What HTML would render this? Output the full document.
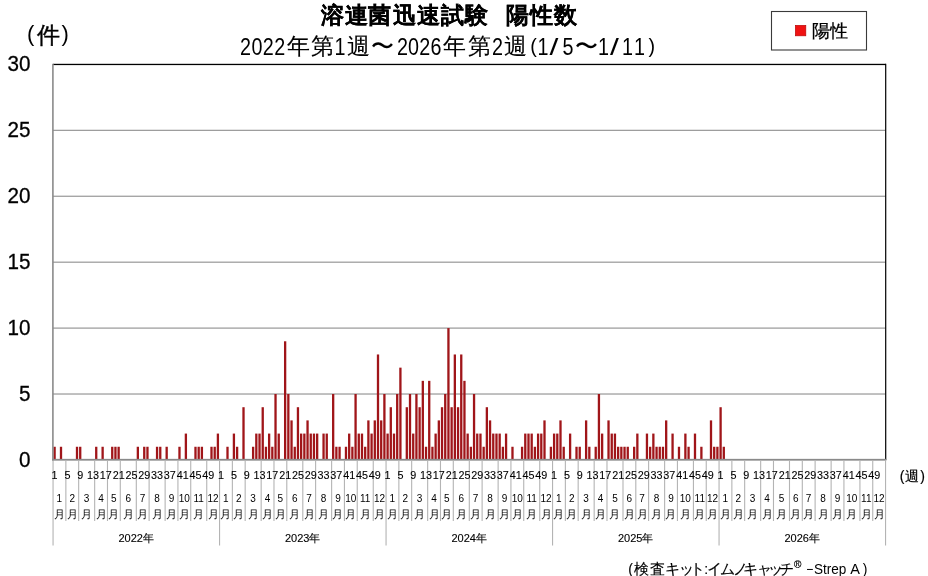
<!DOCTYPE html>
<html><head><meta charset="utf-8">
<style>
html,body{margin:0;padding:0;background:#fff;}
body{width:928px;height:576px;overflow:hidden;position:relative;font-family:"Liberation Sans",sans-serif;color:#000;}
svg{position:absolute;left:0;top:0;will-change:transform;}
svg text{font-family:"Liberation Sans",sans-serif;fill:#000;}
</style></head><body>
<svg width="928" height="576" viewBox="0 0 928 576">
<rect x="53.0" y="393.44" width="832.5" height="1.15" fill="#939393"/>
<rect x="53.0" y="327.52" width="832.5" height="1.15" fill="#939393"/>
<rect x="53.0" y="261.60" width="832.5" height="1.15" fill="#939393"/>
<rect x="53.0" y="195.67" width="832.5" height="1.15" fill="#939393"/>
<rect x="53.0" y="129.75" width="832.5" height="1.15" fill="#939393"/>
<rect x="53.0" y="63.80" width="833.0" height="1.3" fill="#000"/>
<rect x="885.10" y="63.80" width="1.2" height="396.15" fill="#000"/>
<rect x="53.45" y="446.76" width="2.3" height="13.18" fill="#a01519"/>
<rect x="59.85" y="446.76" width="2.3" height="13.18" fill="#a01519"/>
<rect x="75.86" y="446.76" width="2.3" height="13.18" fill="#a01519"/>
<rect x="79.07" y="446.76" width="2.3" height="13.18" fill="#a01519"/>
<rect x="95.08" y="446.76" width="2.3" height="13.18" fill="#a01519"/>
<rect x="101.48" y="446.76" width="2.3" height="13.18" fill="#a01519"/>
<rect x="111.09" y="446.76" width="2.3" height="13.18" fill="#a01519"/>
<rect x="114.29" y="446.76" width="2.3" height="13.18" fill="#a01519"/>
<rect x="117.49" y="446.76" width="2.3" height="13.18" fill="#a01519"/>
<rect x="136.70" y="446.76" width="2.3" height="13.18" fill="#a01519"/>
<rect x="143.10" y="446.76" width="2.3" height="13.18" fill="#a01519"/>
<rect x="146.31" y="446.76" width="2.3" height="13.18" fill="#a01519"/>
<rect x="155.91" y="446.76" width="2.3" height="13.18" fill="#a01519"/>
<rect x="159.11" y="446.76" width="2.3" height="13.18" fill="#a01519"/>
<rect x="165.52" y="446.76" width="2.3" height="13.18" fill="#a01519"/>
<rect x="178.33" y="446.76" width="2.3" height="13.18" fill="#a01519"/>
<rect x="184.73" y="433.58" width="2.3" height="26.37" fill="#a01519"/>
<rect x="194.34" y="446.76" width="2.3" height="13.18" fill="#a01519"/>
<rect x="197.54" y="446.76" width="2.3" height="13.18" fill="#a01519"/>
<rect x="200.74" y="446.76" width="2.3" height="13.18" fill="#a01519"/>
<rect x="210.35" y="446.76" width="2.3" height="13.18" fill="#a01519"/>
<rect x="213.55" y="446.76" width="2.3" height="13.18" fill="#a01519"/>
<rect x="216.75" y="433.58" width="2.3" height="26.37" fill="#a01519"/>
<rect x="226.35" y="446.76" width="2.3" height="13.18" fill="#a01519"/>
<rect x="232.76" y="433.58" width="2.3" height="26.37" fill="#a01519"/>
<rect x="235.96" y="446.76" width="2.3" height="13.18" fill="#a01519"/>
<rect x="242.36" y="407.21" width="2.3" height="52.74" fill="#a01519"/>
<rect x="251.97" y="446.76" width="2.3" height="13.18" fill="#a01519"/>
<rect x="255.17" y="433.58" width="2.3" height="26.37" fill="#a01519"/>
<rect x="258.37" y="433.58" width="2.3" height="26.37" fill="#a01519"/>
<rect x="261.58" y="407.21" width="2.3" height="52.74" fill="#a01519"/>
<rect x="264.78" y="446.76" width="2.3" height="13.18" fill="#a01519"/>
<rect x="267.98" y="433.58" width="2.3" height="26.37" fill="#a01519"/>
<rect x="271.18" y="446.76" width="2.3" height="13.18" fill="#a01519"/>
<rect x="274.38" y="394.02" width="2.3" height="65.92" fill="#a01519"/>
<rect x="277.59" y="433.58" width="2.3" height="26.37" fill="#a01519"/>
<rect x="283.99" y="341.28" width="2.3" height="118.66" fill="#a01519"/>
<rect x="287.19" y="394.02" width="2.3" height="65.92" fill="#a01519"/>
<rect x="290.39" y="420.39" width="2.3" height="39.55" fill="#a01519"/>
<rect x="293.60" y="446.76" width="2.3" height="13.18" fill="#a01519"/>
<rect x="296.80" y="407.21" width="2.3" height="52.74" fill="#a01519"/>
<rect x="300.00" y="433.58" width="2.3" height="26.37" fill="#a01519"/>
<rect x="303.20" y="433.58" width="2.3" height="26.37" fill="#a01519"/>
<rect x="306.40" y="420.39" width="2.3" height="39.55" fill="#a01519"/>
<rect x="309.60" y="433.58" width="2.3" height="26.37" fill="#a01519"/>
<rect x="312.81" y="433.58" width="2.3" height="26.37" fill="#a01519"/>
<rect x="316.01" y="433.58" width="2.3" height="26.37" fill="#a01519"/>
<rect x="322.41" y="433.58" width="2.3" height="26.37" fill="#a01519"/>
<rect x="325.61" y="433.58" width="2.3" height="26.37" fill="#a01519"/>
<rect x="332.02" y="394.02" width="2.3" height="65.92" fill="#a01519"/>
<rect x="335.22" y="446.76" width="2.3" height="13.18" fill="#a01519"/>
<rect x="338.42" y="446.76" width="2.3" height="13.18" fill="#a01519"/>
<rect x="344.83" y="446.76" width="2.3" height="13.18" fill="#a01519"/>
<rect x="348.03" y="433.58" width="2.3" height="26.37" fill="#a01519"/>
<rect x="351.23" y="446.76" width="2.3" height="13.18" fill="#a01519"/>
<rect x="354.43" y="394.02" width="2.3" height="65.92" fill="#a01519"/>
<rect x="357.63" y="433.58" width="2.3" height="26.37" fill="#a01519"/>
<rect x="360.84" y="433.58" width="2.3" height="26.37" fill="#a01519"/>
<rect x="364.04" y="446.76" width="2.3" height="13.18" fill="#a01519"/>
<rect x="367.24" y="420.39" width="2.3" height="39.55" fill="#a01519"/>
<rect x="370.44" y="433.58" width="2.3" height="26.37" fill="#a01519"/>
<rect x="373.64" y="420.39" width="2.3" height="39.55" fill="#a01519"/>
<rect x="376.85" y="354.47" width="2.3" height="105.48" fill="#a01519"/>
<rect x="380.05" y="420.39" width="2.3" height="39.55" fill="#a01519"/>
<rect x="383.25" y="394.02" width="2.3" height="65.92" fill="#a01519"/>
<rect x="386.45" y="433.58" width="2.3" height="26.37" fill="#a01519"/>
<rect x="389.65" y="407.21" width="2.3" height="52.74" fill="#a01519"/>
<rect x="392.85" y="433.58" width="2.3" height="26.37" fill="#a01519"/>
<rect x="396.06" y="394.02" width="2.3" height="65.92" fill="#a01519"/>
<rect x="399.26" y="367.65" width="2.3" height="92.29" fill="#a01519"/>
<rect x="405.66" y="407.21" width="2.3" height="52.74" fill="#a01519"/>
<rect x="408.86" y="394.02" width="2.3" height="65.92" fill="#a01519"/>
<rect x="412.07" y="433.58" width="2.3" height="26.37" fill="#a01519"/>
<rect x="415.27" y="394.02" width="2.3" height="65.92" fill="#a01519"/>
<rect x="418.47" y="407.21" width="2.3" height="52.74" fill="#a01519"/>
<rect x="421.67" y="380.84" width="2.3" height="79.11" fill="#a01519"/>
<rect x="424.87" y="446.76" width="2.3" height="13.18" fill="#a01519"/>
<rect x="428.08" y="380.84" width="2.3" height="79.11" fill="#a01519"/>
<rect x="431.28" y="446.76" width="2.3" height="13.18" fill="#a01519"/>
<rect x="434.48" y="433.58" width="2.3" height="26.37" fill="#a01519"/>
<rect x="437.68" y="420.39" width="2.3" height="39.55" fill="#a01519"/>
<rect x="440.88" y="407.21" width="2.3" height="52.74" fill="#a01519"/>
<rect x="444.09" y="394.02" width="2.3" height="65.92" fill="#a01519"/>
<rect x="447.29" y="328.10" width="2.3" height="131.85" fill="#a01519"/>
<rect x="450.49" y="407.21" width="2.3" height="52.74" fill="#a01519"/>
<rect x="453.69" y="354.47" width="2.3" height="105.48" fill="#a01519"/>
<rect x="456.89" y="407.21" width="2.3" height="52.74" fill="#a01519"/>
<rect x="460.10" y="354.47" width="2.3" height="105.48" fill="#a01519"/>
<rect x="463.30" y="380.84" width="2.3" height="79.11" fill="#a01519"/>
<rect x="466.50" y="433.58" width="2.3" height="26.37" fill="#a01519"/>
<rect x="469.70" y="446.76" width="2.3" height="13.18" fill="#a01519"/>
<rect x="472.90" y="394.02" width="2.3" height="65.92" fill="#a01519"/>
<rect x="476.10" y="433.58" width="2.3" height="26.37" fill="#a01519"/>
<rect x="479.31" y="433.58" width="2.3" height="26.37" fill="#a01519"/>
<rect x="482.51" y="446.76" width="2.3" height="13.18" fill="#a01519"/>
<rect x="485.71" y="407.21" width="2.3" height="52.74" fill="#a01519"/>
<rect x="488.91" y="420.39" width="2.3" height="39.55" fill="#a01519"/>
<rect x="492.11" y="433.58" width="2.3" height="26.37" fill="#a01519"/>
<rect x="495.32" y="433.58" width="2.3" height="26.37" fill="#a01519"/>
<rect x="498.52" y="433.58" width="2.3" height="26.37" fill="#a01519"/>
<rect x="501.72" y="446.76" width="2.3" height="13.18" fill="#a01519"/>
<rect x="504.92" y="433.58" width="2.3" height="26.37" fill="#a01519"/>
<rect x="511.33" y="446.76" width="2.3" height="13.18" fill="#a01519"/>
<rect x="520.93" y="446.76" width="2.3" height="13.18" fill="#a01519"/>
<rect x="524.13" y="433.58" width="2.3" height="26.37" fill="#a01519"/>
<rect x="527.34" y="433.58" width="2.3" height="26.37" fill="#a01519"/>
<rect x="530.54" y="433.58" width="2.3" height="26.37" fill="#a01519"/>
<rect x="533.74" y="446.76" width="2.3" height="13.18" fill="#a01519"/>
<rect x="536.94" y="433.58" width="2.3" height="26.37" fill="#a01519"/>
<rect x="540.14" y="433.58" width="2.3" height="26.37" fill="#a01519"/>
<rect x="543.35" y="420.39" width="2.3" height="39.55" fill="#a01519"/>
<rect x="549.75" y="446.76" width="2.3" height="13.18" fill="#a01519"/>
<rect x="552.95" y="433.58" width="2.3" height="26.37" fill="#a01519"/>
<rect x="556.15" y="433.58" width="2.3" height="26.37" fill="#a01519"/>
<rect x="559.35" y="420.39" width="2.3" height="39.55" fill="#a01519"/>
<rect x="562.56" y="446.76" width="2.3" height="13.18" fill="#a01519"/>
<rect x="568.96" y="433.58" width="2.3" height="26.37" fill="#a01519"/>
<rect x="575.36" y="446.76" width="2.3" height="13.18" fill="#a01519"/>
<rect x="578.57" y="446.76" width="2.3" height="13.18" fill="#a01519"/>
<rect x="584.97" y="420.39" width="2.3" height="39.55" fill="#a01519"/>
<rect x="588.17" y="446.76" width="2.3" height="13.18" fill="#a01519"/>
<rect x="594.58" y="446.76" width="2.3" height="13.18" fill="#a01519"/>
<rect x="597.78" y="394.02" width="2.3" height="65.92" fill="#a01519"/>
<rect x="600.98" y="433.58" width="2.3" height="26.37" fill="#a01519"/>
<rect x="607.38" y="420.39" width="2.3" height="39.55" fill="#a01519"/>
<rect x="610.59" y="433.58" width="2.3" height="26.37" fill="#a01519"/>
<rect x="613.79" y="433.58" width="2.3" height="26.37" fill="#a01519"/>
<rect x="616.99" y="446.76" width="2.3" height="13.18" fill="#a01519"/>
<rect x="620.19" y="446.76" width="2.3" height="13.18" fill="#a01519"/>
<rect x="623.39" y="446.76" width="2.3" height="13.18" fill="#a01519"/>
<rect x="626.60" y="446.76" width="2.3" height="13.18" fill="#a01519"/>
<rect x="633.00" y="446.76" width="2.3" height="13.18" fill="#a01519"/>
<rect x="636.20" y="433.58" width="2.3" height="26.37" fill="#a01519"/>
<rect x="645.81" y="433.58" width="2.3" height="26.37" fill="#a01519"/>
<rect x="649.01" y="446.76" width="2.3" height="13.18" fill="#a01519"/>
<rect x="652.21" y="433.58" width="2.3" height="26.37" fill="#a01519"/>
<rect x="655.41" y="446.76" width="2.3" height="13.18" fill="#a01519"/>
<rect x="658.61" y="446.76" width="2.3" height="13.18" fill="#a01519"/>
<rect x="661.82" y="446.76" width="2.3" height="13.18" fill="#a01519"/>
<rect x="665.02" y="420.39" width="2.3" height="39.55" fill="#a01519"/>
<rect x="671.42" y="433.58" width="2.3" height="26.37" fill="#a01519"/>
<rect x="677.83" y="446.76" width="2.3" height="13.18" fill="#a01519"/>
<rect x="684.23" y="433.58" width="2.3" height="26.37" fill="#a01519"/>
<rect x="687.43" y="446.76" width="2.3" height="13.18" fill="#a01519"/>
<rect x="693.84" y="433.58" width="2.3" height="26.37" fill="#a01519"/>
<rect x="700.24" y="446.76" width="2.3" height="13.18" fill="#a01519"/>
<rect x="709.85" y="420.39" width="2.3" height="39.55" fill="#a01519"/>
<rect x="713.05" y="446.76" width="2.3" height="13.18" fill="#a01519"/>
<rect x="716.25" y="446.76" width="2.3" height="13.18" fill="#a01519"/>
<rect x="719.45" y="407.21" width="2.3" height="52.74" fill="#a01519"/>
<rect x="722.65" y="446.76" width="2.3" height="13.18" fill="#a01519"/>
<rect x="52.10" y="63.80" width="1.6" height="396.75" fill="#8a8a8a"/>
<rect x="52.10" y="458.85" width="834.30" height="1.8" fill="#8a8a8a"/>
<rect x="52.50" y="460.95" width="1.1" height="84.55" fill="#b4b4b4"/>
<text x="59.40" y="502" text-anchor="middle" font-size="10">1</text>
<text x="59.40" y="517.5" text-anchor="middle" font-size="10.5">月</text>
<rect x="65.31" y="460.95" width="1.1" height="60.05" fill="#b4b4b4"/>
<text x="72.21" y="502" text-anchor="middle" font-size="10">2</text>
<text x="72.21" y="517.5" text-anchor="middle" font-size="10.5">月</text>
<rect x="78.12" y="460.95" width="1.1" height="60.05" fill="#b4b4b4"/>
<text x="86.62" y="502" text-anchor="middle" font-size="10">3</text>
<text x="86.62" y="517.5" text-anchor="middle" font-size="10.5">月</text>
<rect x="94.12" y="460.95" width="1.1" height="60.05" fill="#b4b4b4"/>
<text x="101.03" y="502" text-anchor="middle" font-size="10">4</text>
<text x="101.03" y="517.5" text-anchor="middle" font-size="10.5">月</text>
<rect x="106.93" y="460.95" width="1.1" height="60.05" fill="#b4b4b4"/>
<text x="113.84" y="502" text-anchor="middle" font-size="10">5</text>
<text x="113.84" y="517.5" text-anchor="middle" font-size="10.5">月</text>
<rect x="119.74" y="460.95" width="1.1" height="60.05" fill="#b4b4b4"/>
<text x="128.25" y="502" text-anchor="middle" font-size="10">6</text>
<text x="128.25" y="517.5" text-anchor="middle" font-size="10.5">月</text>
<rect x="135.75" y="460.95" width="1.1" height="60.05" fill="#b4b4b4"/>
<text x="142.65" y="502" text-anchor="middle" font-size="10">7</text>
<text x="142.65" y="517.5" text-anchor="middle" font-size="10.5">月</text>
<rect x="148.56" y="460.95" width="1.1" height="60.05" fill="#b4b4b4"/>
<text x="157.06" y="502" text-anchor="middle" font-size="10">8</text>
<text x="157.06" y="517.5" text-anchor="middle" font-size="10.5">月</text>
<rect x="164.57" y="460.95" width="1.1" height="60.05" fill="#b4b4b4"/>
<text x="171.47" y="502" text-anchor="middle" font-size="10">9</text>
<text x="171.47" y="517.5" text-anchor="middle" font-size="10.5">月</text>
<rect x="177.38" y="460.95" width="1.1" height="60.05" fill="#b4b4b4"/>
<text x="184.28" y="502" text-anchor="middle" font-size="10">10</text>
<text x="184.28" y="517.5" text-anchor="middle" font-size="10.5">月</text>
<rect x="190.18" y="460.95" width="1.1" height="60.05" fill="#b4b4b4"/>
<text x="198.69" y="502" text-anchor="middle" font-size="10">11</text>
<text x="198.69" y="517.5" text-anchor="middle" font-size="10.5">月</text>
<rect x="206.19" y="460.95" width="1.1" height="60.05" fill="#b4b4b4"/>
<text x="213.10" y="502" text-anchor="middle" font-size="10">12</text>
<text x="213.10" y="517.5" text-anchor="middle" font-size="10.5">月</text>
<text transform="translate(54.60,479) scale(1.08,1)" text-anchor="middle" font-size="10" stroke="#000" stroke-width="0.1">1</text>
<text transform="translate(67.41,479) scale(1.08,1)" text-anchor="middle" font-size="10" stroke="#000" stroke-width="0.1">5</text>
<text transform="translate(80.22,479) scale(1.08,1)" text-anchor="middle" font-size="10" stroke="#000" stroke-width="0.1">9</text>
<text transform="translate(93.02,479) scale(1.08,1)" text-anchor="middle" font-size="10" stroke="#000" stroke-width="0.1">13</text>
<text transform="translate(105.83,479) scale(1.08,1)" text-anchor="middle" font-size="10" stroke="#000" stroke-width="0.1">17</text>
<text transform="translate(118.64,479) scale(1.08,1)" text-anchor="middle" font-size="10" stroke="#000" stroke-width="0.1">21</text>
<text transform="translate(131.45,479) scale(1.08,1)" text-anchor="middle" font-size="10" stroke="#000" stroke-width="0.1">25</text>
<text transform="translate(144.25,479) scale(1.08,1)" text-anchor="middle" font-size="10" stroke="#000" stroke-width="0.1">29</text>
<text transform="translate(157.06,479) scale(1.08,1)" text-anchor="middle" font-size="10" stroke="#000" stroke-width="0.1">33</text>
<text transform="translate(169.87,479) scale(1.08,1)" text-anchor="middle" font-size="10" stroke="#000" stroke-width="0.1">37</text>
<text transform="translate(182.68,479) scale(1.08,1)" text-anchor="middle" font-size="10" stroke="#000" stroke-width="0.1">41</text>
<text transform="translate(195.49,479) scale(1.08,1)" text-anchor="middle" font-size="10" stroke="#000" stroke-width="0.1">45</text>
<text transform="translate(208.29,479) scale(1.08,1)" text-anchor="middle" font-size="10" stroke="#000" stroke-width="0.1">49</text>
<text x="136.25" y="541.7" text-anchor="middle" font-size="11" stroke="#000" stroke-width="0.12">2022年</text>
<rect x="219.00" y="460.95" width="1.1" height="84.55" fill="#b4b4b4"/>
<text x="225.90" y="502" text-anchor="middle" font-size="10">1</text>
<text x="225.90" y="517.5" text-anchor="middle" font-size="10.5">月</text>
<rect x="231.81" y="460.95" width="1.1" height="60.05" fill="#b4b4b4"/>
<text x="238.71" y="502" text-anchor="middle" font-size="10">2</text>
<text x="238.71" y="517.5" text-anchor="middle" font-size="10.5">月</text>
<rect x="244.62" y="460.95" width="1.1" height="60.05" fill="#b4b4b4"/>
<text x="253.12" y="502" text-anchor="middle" font-size="10">3</text>
<text x="253.12" y="517.5" text-anchor="middle" font-size="10.5">月</text>
<rect x="260.62" y="460.95" width="1.1" height="60.05" fill="#b4b4b4"/>
<text x="267.53" y="502" text-anchor="middle" font-size="10">4</text>
<text x="267.53" y="517.5" text-anchor="middle" font-size="10.5">月</text>
<rect x="273.43" y="460.95" width="1.1" height="60.05" fill="#b4b4b4"/>
<text x="280.34" y="502" text-anchor="middle" font-size="10">5</text>
<text x="280.34" y="517.5" text-anchor="middle" font-size="10.5">月</text>
<rect x="286.24" y="460.95" width="1.1" height="60.05" fill="#b4b4b4"/>
<text x="294.75" y="502" text-anchor="middle" font-size="10">6</text>
<text x="294.75" y="517.5" text-anchor="middle" font-size="10.5">月</text>
<rect x="302.25" y="460.95" width="1.1" height="60.05" fill="#b4b4b4"/>
<text x="309.15" y="502" text-anchor="middle" font-size="10">7</text>
<text x="309.15" y="517.5" text-anchor="middle" font-size="10.5">月</text>
<rect x="315.06" y="460.95" width="1.1" height="60.05" fill="#b4b4b4"/>
<text x="323.56" y="502" text-anchor="middle" font-size="10">8</text>
<text x="323.56" y="517.5" text-anchor="middle" font-size="10.5">月</text>
<rect x="331.07" y="460.95" width="1.1" height="60.05" fill="#b4b4b4"/>
<text x="337.97" y="502" text-anchor="middle" font-size="10">9</text>
<text x="337.97" y="517.5" text-anchor="middle" font-size="10.5">月</text>
<rect x="343.88" y="460.95" width="1.1" height="60.05" fill="#b4b4b4"/>
<text x="350.78" y="502" text-anchor="middle" font-size="10">10</text>
<text x="350.78" y="517.5" text-anchor="middle" font-size="10.5">月</text>
<rect x="356.68" y="460.95" width="1.1" height="60.05" fill="#b4b4b4"/>
<text x="365.19" y="502" text-anchor="middle" font-size="10">11</text>
<text x="365.19" y="517.5" text-anchor="middle" font-size="10.5">月</text>
<rect x="372.69" y="460.95" width="1.1" height="60.05" fill="#b4b4b4"/>
<text x="379.60" y="502" text-anchor="middle" font-size="10">12</text>
<text x="379.60" y="517.5" text-anchor="middle" font-size="10.5">月</text>
<text transform="translate(221.10,479) scale(1.08,1)" text-anchor="middle" font-size="10" stroke="#000" stroke-width="0.1">1</text>
<text transform="translate(233.91,479) scale(1.08,1)" text-anchor="middle" font-size="10" stroke="#000" stroke-width="0.1">5</text>
<text transform="translate(246.72,479) scale(1.08,1)" text-anchor="middle" font-size="10" stroke="#000" stroke-width="0.1">9</text>
<text transform="translate(259.52,479) scale(1.08,1)" text-anchor="middle" font-size="10" stroke="#000" stroke-width="0.1">13</text>
<text transform="translate(272.33,479) scale(1.08,1)" text-anchor="middle" font-size="10" stroke="#000" stroke-width="0.1">17</text>
<text transform="translate(285.14,479) scale(1.08,1)" text-anchor="middle" font-size="10" stroke="#000" stroke-width="0.1">21</text>
<text transform="translate(297.95,479) scale(1.08,1)" text-anchor="middle" font-size="10" stroke="#000" stroke-width="0.1">25</text>
<text transform="translate(310.75,479) scale(1.08,1)" text-anchor="middle" font-size="10" stroke="#000" stroke-width="0.1">29</text>
<text transform="translate(323.56,479) scale(1.08,1)" text-anchor="middle" font-size="10" stroke="#000" stroke-width="0.1">33</text>
<text transform="translate(336.37,479) scale(1.08,1)" text-anchor="middle" font-size="10" stroke="#000" stroke-width="0.1">37</text>
<text transform="translate(349.18,479) scale(1.08,1)" text-anchor="middle" font-size="10" stroke="#000" stroke-width="0.1">41</text>
<text transform="translate(361.99,479) scale(1.08,1)" text-anchor="middle" font-size="10" stroke="#000" stroke-width="0.1">45</text>
<text transform="translate(374.79,479) scale(1.08,1)" text-anchor="middle" font-size="10" stroke="#000" stroke-width="0.1">49</text>
<text x="302.75" y="541.7" text-anchor="middle" font-size="11" stroke="#000" stroke-width="0.12">2023年</text>
<rect x="385.50" y="460.95" width="1.1" height="84.55" fill="#b4b4b4"/>
<text x="392.40" y="502" text-anchor="middle" font-size="10">1</text>
<text x="392.40" y="517.5" text-anchor="middle" font-size="10.5">月</text>
<rect x="398.31" y="460.95" width="1.1" height="60.05" fill="#b4b4b4"/>
<text x="405.21" y="502" text-anchor="middle" font-size="10">2</text>
<text x="405.21" y="517.5" text-anchor="middle" font-size="10.5">月</text>
<rect x="411.12" y="460.95" width="1.1" height="60.05" fill="#b4b4b4"/>
<text x="419.62" y="502" text-anchor="middle" font-size="10">3</text>
<text x="419.62" y="517.5" text-anchor="middle" font-size="10.5">月</text>
<rect x="427.12" y="460.95" width="1.1" height="60.05" fill="#b4b4b4"/>
<text x="434.03" y="502" text-anchor="middle" font-size="10">4</text>
<text x="434.03" y="517.5" text-anchor="middle" font-size="10.5">月</text>
<rect x="439.93" y="460.95" width="1.1" height="60.05" fill="#b4b4b4"/>
<text x="446.84" y="502" text-anchor="middle" font-size="10">5</text>
<text x="446.84" y="517.5" text-anchor="middle" font-size="10.5">月</text>
<rect x="452.74" y="460.95" width="1.1" height="60.05" fill="#b4b4b4"/>
<text x="461.25" y="502" text-anchor="middle" font-size="10">6</text>
<text x="461.25" y="517.5" text-anchor="middle" font-size="10.5">月</text>
<rect x="468.75" y="460.95" width="1.1" height="60.05" fill="#b4b4b4"/>
<text x="475.65" y="502" text-anchor="middle" font-size="10">7</text>
<text x="475.65" y="517.5" text-anchor="middle" font-size="10.5">月</text>
<rect x="481.56" y="460.95" width="1.1" height="60.05" fill="#b4b4b4"/>
<text x="490.06" y="502" text-anchor="middle" font-size="10">8</text>
<text x="490.06" y="517.5" text-anchor="middle" font-size="10.5">月</text>
<rect x="497.57" y="460.95" width="1.1" height="60.05" fill="#b4b4b4"/>
<text x="504.47" y="502" text-anchor="middle" font-size="10">9</text>
<text x="504.47" y="517.5" text-anchor="middle" font-size="10.5">月</text>
<rect x="510.38" y="460.95" width="1.1" height="60.05" fill="#b4b4b4"/>
<text x="517.28" y="502" text-anchor="middle" font-size="10">10</text>
<text x="517.28" y="517.5" text-anchor="middle" font-size="10.5">月</text>
<rect x="523.18" y="460.95" width="1.1" height="60.05" fill="#b4b4b4"/>
<text x="531.69" y="502" text-anchor="middle" font-size="10">11</text>
<text x="531.69" y="517.5" text-anchor="middle" font-size="10.5">月</text>
<rect x="539.19" y="460.95" width="1.1" height="60.05" fill="#b4b4b4"/>
<text x="546.10" y="502" text-anchor="middle" font-size="10">12</text>
<text x="546.10" y="517.5" text-anchor="middle" font-size="10.5">月</text>
<text transform="translate(387.60,479) scale(1.08,1)" text-anchor="middle" font-size="10" stroke="#000" stroke-width="0.1">1</text>
<text transform="translate(400.41,479) scale(1.08,1)" text-anchor="middle" font-size="10" stroke="#000" stroke-width="0.1">5</text>
<text transform="translate(413.22,479) scale(1.08,1)" text-anchor="middle" font-size="10" stroke="#000" stroke-width="0.1">9</text>
<text transform="translate(426.02,479) scale(1.08,1)" text-anchor="middle" font-size="10" stroke="#000" stroke-width="0.1">13</text>
<text transform="translate(438.83,479) scale(1.08,1)" text-anchor="middle" font-size="10" stroke="#000" stroke-width="0.1">17</text>
<text transform="translate(451.64,479) scale(1.08,1)" text-anchor="middle" font-size="10" stroke="#000" stroke-width="0.1">21</text>
<text transform="translate(464.45,479) scale(1.08,1)" text-anchor="middle" font-size="10" stroke="#000" stroke-width="0.1">25</text>
<text transform="translate(477.25,479) scale(1.08,1)" text-anchor="middle" font-size="10" stroke="#000" stroke-width="0.1">29</text>
<text transform="translate(490.06,479) scale(1.08,1)" text-anchor="middle" font-size="10" stroke="#000" stroke-width="0.1">33</text>
<text transform="translate(502.87,479) scale(1.08,1)" text-anchor="middle" font-size="10" stroke="#000" stroke-width="0.1">37</text>
<text transform="translate(515.68,479) scale(1.08,1)" text-anchor="middle" font-size="10" stroke="#000" stroke-width="0.1">41</text>
<text transform="translate(528.49,479) scale(1.08,1)" text-anchor="middle" font-size="10" stroke="#000" stroke-width="0.1">45</text>
<text transform="translate(541.29,479) scale(1.08,1)" text-anchor="middle" font-size="10" stroke="#000" stroke-width="0.1">49</text>
<text x="469.25" y="541.7" text-anchor="middle" font-size="11" stroke="#000" stroke-width="0.12">2024年</text>
<rect x="552.00" y="460.95" width="1.1" height="84.55" fill="#b4b4b4"/>
<text x="558.90" y="502" text-anchor="middle" font-size="10">1</text>
<text x="558.90" y="517.5" text-anchor="middle" font-size="10.5">月</text>
<rect x="564.81" y="460.95" width="1.1" height="60.05" fill="#b4b4b4"/>
<text x="571.71" y="502" text-anchor="middle" font-size="10">2</text>
<text x="571.71" y="517.5" text-anchor="middle" font-size="10.5">月</text>
<rect x="577.62" y="460.95" width="1.1" height="60.05" fill="#b4b4b4"/>
<text x="586.12" y="502" text-anchor="middle" font-size="10">3</text>
<text x="586.12" y="517.5" text-anchor="middle" font-size="10.5">月</text>
<rect x="593.62" y="460.95" width="1.1" height="60.05" fill="#b4b4b4"/>
<text x="600.53" y="502" text-anchor="middle" font-size="10">4</text>
<text x="600.53" y="517.5" text-anchor="middle" font-size="10.5">月</text>
<rect x="606.43" y="460.95" width="1.1" height="60.05" fill="#b4b4b4"/>
<text x="614.94" y="502" text-anchor="middle" font-size="10">5</text>
<text x="614.94" y="517.5" text-anchor="middle" font-size="10.5">月</text>
<rect x="622.44" y="460.95" width="1.1" height="60.05" fill="#b4b4b4"/>
<text x="629.35" y="502" text-anchor="middle" font-size="10">6</text>
<text x="629.35" y="517.5" text-anchor="middle" font-size="10.5">月</text>
<rect x="635.25" y="460.95" width="1.1" height="60.05" fill="#b4b4b4"/>
<text x="642.15" y="502" text-anchor="middle" font-size="10">7</text>
<text x="642.15" y="517.5" text-anchor="middle" font-size="10.5">月</text>
<rect x="648.06" y="460.95" width="1.1" height="60.05" fill="#b4b4b4"/>
<text x="656.56" y="502" text-anchor="middle" font-size="10">8</text>
<text x="656.56" y="517.5" text-anchor="middle" font-size="10.5">月</text>
<rect x="664.07" y="460.95" width="1.1" height="60.05" fill="#b4b4b4"/>
<text x="670.97" y="502" text-anchor="middle" font-size="10">9</text>
<text x="670.97" y="517.5" text-anchor="middle" font-size="10.5">月</text>
<rect x="676.88" y="460.95" width="1.1" height="60.05" fill="#b4b4b4"/>
<text x="685.38" y="502" text-anchor="middle" font-size="10">10</text>
<text x="685.38" y="517.5" text-anchor="middle" font-size="10.5">月</text>
<rect x="692.88" y="460.95" width="1.1" height="60.05" fill="#b4b4b4"/>
<text x="699.79" y="502" text-anchor="middle" font-size="10">11</text>
<text x="699.79" y="517.5" text-anchor="middle" font-size="10.5">月</text>
<rect x="705.69" y="460.95" width="1.1" height="60.05" fill="#b4b4b4"/>
<text x="712.60" y="502" text-anchor="middle" font-size="10">12</text>
<text x="712.60" y="517.5" text-anchor="middle" font-size="10.5">月</text>
<text transform="translate(554.10,479) scale(1.08,1)" text-anchor="middle" font-size="10" stroke="#000" stroke-width="0.1">1</text>
<text transform="translate(566.91,479) scale(1.08,1)" text-anchor="middle" font-size="10" stroke="#000" stroke-width="0.1">5</text>
<text transform="translate(579.72,479) scale(1.08,1)" text-anchor="middle" font-size="10" stroke="#000" stroke-width="0.1">9</text>
<text transform="translate(592.52,479) scale(1.08,1)" text-anchor="middle" font-size="10" stroke="#000" stroke-width="0.1">13</text>
<text transform="translate(605.33,479) scale(1.08,1)" text-anchor="middle" font-size="10" stroke="#000" stroke-width="0.1">17</text>
<text transform="translate(618.14,479) scale(1.08,1)" text-anchor="middle" font-size="10" stroke="#000" stroke-width="0.1">21</text>
<text transform="translate(630.95,479) scale(1.08,1)" text-anchor="middle" font-size="10" stroke="#000" stroke-width="0.1">25</text>
<text transform="translate(643.75,479) scale(1.08,1)" text-anchor="middle" font-size="10" stroke="#000" stroke-width="0.1">29</text>
<text transform="translate(656.56,479) scale(1.08,1)" text-anchor="middle" font-size="10" stroke="#000" stroke-width="0.1">33</text>
<text transform="translate(669.37,479) scale(1.08,1)" text-anchor="middle" font-size="10" stroke="#000" stroke-width="0.1">37</text>
<text transform="translate(682.18,479) scale(1.08,1)" text-anchor="middle" font-size="10" stroke="#000" stroke-width="0.1">41</text>
<text transform="translate(694.99,479) scale(1.08,1)" text-anchor="middle" font-size="10" stroke="#000" stroke-width="0.1">45</text>
<text transform="translate(707.79,479) scale(1.08,1)" text-anchor="middle" font-size="10" stroke="#000" stroke-width="0.1">49</text>
<text x="635.75" y="541.7" text-anchor="middle" font-size="11" stroke="#000" stroke-width="0.12">2025年</text>
<rect x="718.50" y="460.95" width="1.1" height="84.55" fill="#b4b4b4"/>
<text x="725.40" y="502" text-anchor="middle" font-size="10">1</text>
<text x="725.40" y="517.5" text-anchor="middle" font-size="10.5">月</text>
<rect x="731.31" y="460.95" width="1.1" height="60.05" fill="#b4b4b4"/>
<text x="738.21" y="502" text-anchor="middle" font-size="10">2</text>
<text x="738.21" y="517.5" text-anchor="middle" font-size="10.5">月</text>
<rect x="744.12" y="460.95" width="1.1" height="60.05" fill="#b4b4b4"/>
<text x="752.62" y="502" text-anchor="middle" font-size="10">3</text>
<text x="752.62" y="517.5" text-anchor="middle" font-size="10.5">月</text>
<rect x="760.12" y="460.95" width="1.1" height="60.05" fill="#b4b4b4"/>
<text x="767.03" y="502" text-anchor="middle" font-size="10">4</text>
<text x="767.03" y="517.5" text-anchor="middle" font-size="10.5">月</text>
<rect x="772.93" y="460.95" width="1.1" height="60.05" fill="#b4b4b4"/>
<text x="781.44" y="502" text-anchor="middle" font-size="10">5</text>
<text x="781.44" y="517.5" text-anchor="middle" font-size="10.5">月</text>
<rect x="788.94" y="460.95" width="1.1" height="60.05" fill="#b4b4b4"/>
<text x="795.85" y="502" text-anchor="middle" font-size="10">6</text>
<text x="795.85" y="517.5" text-anchor="middle" font-size="10.5">月</text>
<rect x="801.75" y="460.95" width="1.1" height="60.05" fill="#b4b4b4"/>
<text x="808.65" y="502" text-anchor="middle" font-size="10">7</text>
<text x="808.65" y="517.5" text-anchor="middle" font-size="10.5">月</text>
<rect x="814.56" y="460.95" width="1.1" height="60.05" fill="#b4b4b4"/>
<text x="823.06" y="502" text-anchor="middle" font-size="10">8</text>
<text x="823.06" y="517.5" text-anchor="middle" font-size="10.5">月</text>
<rect x="830.57" y="460.95" width="1.1" height="60.05" fill="#b4b4b4"/>
<text x="837.47" y="502" text-anchor="middle" font-size="10">9</text>
<text x="837.47" y="517.5" text-anchor="middle" font-size="10.5">月</text>
<rect x="843.38" y="460.95" width="1.1" height="60.05" fill="#b4b4b4"/>
<text x="851.88" y="502" text-anchor="middle" font-size="10">10</text>
<text x="851.88" y="517.5" text-anchor="middle" font-size="10.5">月</text>
<rect x="859.38" y="460.95" width="1.1" height="60.05" fill="#b4b4b4"/>
<text x="866.29" y="502" text-anchor="middle" font-size="10">11</text>
<text x="866.29" y="517.5" text-anchor="middle" font-size="10.5">月</text>
<rect x="872.19" y="460.95" width="1.1" height="60.05" fill="#b4b4b4"/>
<text x="879.10" y="502" text-anchor="middle" font-size="10">12</text>
<text x="879.10" y="517.5" text-anchor="middle" font-size="10.5">月</text>
<text transform="translate(720.60,479) scale(1.08,1)" text-anchor="middle" font-size="10" stroke="#000" stroke-width="0.1">1</text>
<text transform="translate(733.41,479) scale(1.08,1)" text-anchor="middle" font-size="10" stroke="#000" stroke-width="0.1">5</text>
<text transform="translate(746.22,479) scale(1.08,1)" text-anchor="middle" font-size="10" stroke="#000" stroke-width="0.1">9</text>
<text transform="translate(759.02,479) scale(1.08,1)" text-anchor="middle" font-size="10" stroke="#000" stroke-width="0.1">13</text>
<text transform="translate(771.83,479) scale(1.08,1)" text-anchor="middle" font-size="10" stroke="#000" stroke-width="0.1">17</text>
<text transform="translate(784.64,479) scale(1.08,1)" text-anchor="middle" font-size="10" stroke="#000" stroke-width="0.1">21</text>
<text transform="translate(797.45,479) scale(1.08,1)" text-anchor="middle" font-size="10" stroke="#000" stroke-width="0.1">25</text>
<text transform="translate(810.25,479) scale(1.08,1)" text-anchor="middle" font-size="10" stroke="#000" stroke-width="0.1">29</text>
<text transform="translate(823.06,479) scale(1.08,1)" text-anchor="middle" font-size="10" stroke="#000" stroke-width="0.1">33</text>
<text transform="translate(835.87,479) scale(1.08,1)" text-anchor="middle" font-size="10" stroke="#000" stroke-width="0.1">37</text>
<text transform="translate(848.68,479) scale(1.08,1)" text-anchor="middle" font-size="10" stroke="#000" stroke-width="0.1">41</text>
<text transform="translate(861.49,479) scale(1.08,1)" text-anchor="middle" font-size="10" stroke="#000" stroke-width="0.1">45</text>
<text transform="translate(874.29,479) scale(1.08,1)" text-anchor="middle" font-size="10" stroke="#000" stroke-width="0.1">49</text>
<text x="802.25" y="541.7" text-anchor="middle" font-size="11" stroke="#000" stroke-width="0.12">2026年</text>
<rect x="885.00" y="460.95" width="1.1" height="84.55" fill="#b4b4b4"/>
<text transform="translate(30.4,466.75) scale(0.96,1)" text-anchor="end" font-size="21.5" stroke="#000" stroke-width="0.3">0</text>
<text transform="translate(30.4,400.82) scale(0.96,1)" text-anchor="end" font-size="21.5" stroke="#000" stroke-width="0.3">5</text>
<text transform="translate(30.4,334.90) scale(0.96,1)" text-anchor="end" font-size="21.5" stroke="#000" stroke-width="0.3">10</text>
<text transform="translate(30.4,268.98) scale(0.96,1)" text-anchor="end" font-size="21.5" stroke="#000" stroke-width="0.3">15</text>
<text transform="translate(30.4,203.05) scale(0.96,1)" text-anchor="end" font-size="21.5" stroke="#000" stroke-width="0.3">20</text>
<text transform="translate(30.4,137.13) scale(0.96,1)" text-anchor="end" font-size="21.5" stroke="#000" stroke-width="0.3">25</text>
<text transform="translate(30.4,71.20) scale(0.96,1)" text-anchor="end" font-size="21.5" stroke="#000" stroke-width="0.3">30</text>
<text x="332.30 356.10 379.90 404.00 428.20 452.30 476.50" y="22.6" font-size="22.5" font-weight="bold" text-anchor="middle" stroke="#000" stroke-width="0.15">溶連菌迅速試験</text>
<text x="517.30 541.20 565.10" y="22.6" font-size="22.5" font-weight="bold" text-anchor="middle" stroke="#000" stroke-width="0.15">陽性数</text>
<text transform="translate(245.50,54.6) scale(0.84,1)" font-size="23.5" text-anchor="middle">2</text>
<text transform="translate(256.90,54.6) scale(0.84,1)" font-size="23.5" text-anchor="middle">0</text>
<text transform="translate(268.30,54.6) scale(0.84,1)" font-size="23.5" text-anchor="middle">2</text>
<text transform="translate(279.70,54.6) scale(0.84,1)" font-size="23.5" text-anchor="middle">2</text>
<text x="298.80" y="54.2" font-size="22.5" text-anchor="middle" stroke="#000" stroke-width="0.1">年</text>
<text x="322.60" y="54.2" font-size="22.5" text-anchor="middle" stroke="#000" stroke-width="0.1">第</text>
<text transform="translate(340.00,54.6) scale(0.84,1)" font-size="23.5" text-anchor="middle">1</text>
<text x="358.50" y="54.2" font-size="22.5" text-anchor="middle" stroke="#000" stroke-width="0.1">週</text>
<text x="382.50" y="54.2" font-size="22.5" text-anchor="middle" stroke="#000" stroke-width="0.1">〜</text>
<text transform="translate(402.40,54.6) scale(0.84,1)" font-size="23.5" text-anchor="middle">2</text>
<text transform="translate(413.60,54.6) scale(0.84,1)" font-size="23.5" text-anchor="middle">0</text>
<text transform="translate(424.80,54.6) scale(0.84,1)" font-size="23.5" text-anchor="middle">2</text>
<text transform="translate(436.00,54.6) scale(0.84,1)" font-size="23.5" text-anchor="middle">6</text>
<text x="454.90" y="54.2" font-size="22.5" text-anchor="middle" stroke="#000" stroke-width="0.1">年</text>
<text x="479.20" y="54.2" font-size="22.5" text-anchor="middle" stroke="#000" stroke-width="0.1">第</text>
<text transform="translate(497.50,54.6) scale(0.84,1)" font-size="23.5" text-anchor="middle">2</text>
<text x="515.70" y="54.2" font-size="22.5" text-anchor="middle" stroke="#000" stroke-width="0.1">週</text>
<text transform="translate(533.50,53.3) scale(0.84,0.88)" font-size="23.5" text-anchor="middle">(</text>
<text transform="translate(543.00,54.6) scale(0.84,1)" font-size="23.5" text-anchor="middle">1</text>
<text transform="translate(554.00,55.2) scale(1.45,1.08)" font-size="22" text-anchor="middle">/</text>
<text transform="translate(568.00,54.6) scale(0.84,1)" font-size="23.5" text-anchor="middle">5</text>
<text x="586.50" y="54.2" font-size="22.5" text-anchor="middle" stroke="#000" stroke-width="0.1">〜</text>
<text transform="translate(603.50,54.6) scale(0.84,1)" font-size="23.5" text-anchor="middle">1</text>
<text transform="translate(614.40,55.2) scale(1.45,1.08)" font-size="22" text-anchor="middle">/</text>
<text transform="translate(627.60,54.6) scale(0.84,1)" font-size="23.5" text-anchor="middle">1</text>
<text transform="translate(639.60,54.6) scale(0.84,1)" font-size="23.5" text-anchor="middle">1</text>
<text transform="translate(651.70,53.3) scale(0.84,0.88)" font-size="23.5" text-anchor="middle">)</text>
<text x="48.10" y="42.9" font-size="22.5" font-weight="normal" text-anchor="middle" stroke="#000" stroke-width="0.45">件</text>
<text x="30.70 65.10" y="41.0" font-size="22" font-weight="normal" text-anchor="middle" >()</text>
<text x="902.00 912.30 922.70" y="480.8" font-size="14" font-weight="normal" text-anchor="middle" stroke="#000" stroke-width="0.2">(週)</text>
<rect x="771.5" y="11.5" width="95" height="38.5" fill="none" stroke="#3a3a3a" stroke-width="1.1"/>
<rect x="795.4" y="25.4" width="10.4" height="10.4" fill="#f01212" stroke="#b80808" stroke-width="0.7"/>
<text x="821.30 839.20" y="36.6" font-size="17.5" font-weight="normal" text-anchor="middle" stroke="#000" stroke-width="0.3">陽性</text>
<text x="630.50" y="574" font-size="14" text-anchor="middle" stroke="#000" stroke-width="0.15">(</text>
<text x="641.70" y="574" font-size="14.5" text-anchor="middle" stroke="#000" stroke-width="0.15">検</text>
<text x="657.10" y="574" font-size="14.5" text-anchor="middle" stroke="#000" stroke-width="0.15">査</text>
<text x="672.50" y="574" font-size="14.5" text-anchor="middle" stroke="#000" stroke-width="0.15">キ</text>
<text x="686.50" y="574" font-size="14.5" text-anchor="middle" stroke="#000" stroke-width="0.15">ッ</text>
<text x="697.70" y="574" font-size="14.5" text-anchor="middle" stroke="#000" stroke-width="0.15">ト</text>
<text x="706.10" y="574" font-size="14" text-anchor="middle" stroke="#000" stroke-width="0.15">:</text>
<text x="714.20" y="574" font-size="14.5" text-anchor="middle" stroke="#000" stroke-width="0.15">イ</text>
<text x="727.10" y="574" font-size="14.5" text-anchor="middle" stroke="#000" stroke-width="0.15">ム</text>
<text x="740.00" y="574" font-size="14.5" text-anchor="middle" stroke="#000" stroke-width="0.15">ノ</text>
<text x="750.50" y="574" font-size="14.5" text-anchor="middle" stroke="#000" stroke-width="0.15">キ</text>
<text x="764.00" y="574" font-size="14.5" text-anchor="middle" stroke="#000" stroke-width="0.15">ャ</text>
<text x="775.50" y="574" font-size="14.5" text-anchor="middle" stroke="#000" stroke-width="0.15">ッ</text>
<text x="786.80" y="574" font-size="14.5" text-anchor="middle" stroke="#000" stroke-width="0.15">チ</text>
<text x="797.7" y="567.6" font-size="10" text-anchor="middle" stroke="#000" stroke-width="0.2">®</text>
<text x="806.2" y="574" font-size="14" textLength="7" lengthAdjust="spacingAndGlyphs">−</text>
<text x="814" y="574" font-size="14.5" textLength="32.4" lengthAdjust="spacingAndGlyphs">Strep</text>
<text x="855" y="574" font-size="14.5" text-anchor="middle">A</text>
<text x="865" y="574" font-size="14" text-anchor="middle">)</text>
</svg>
</body></html>
